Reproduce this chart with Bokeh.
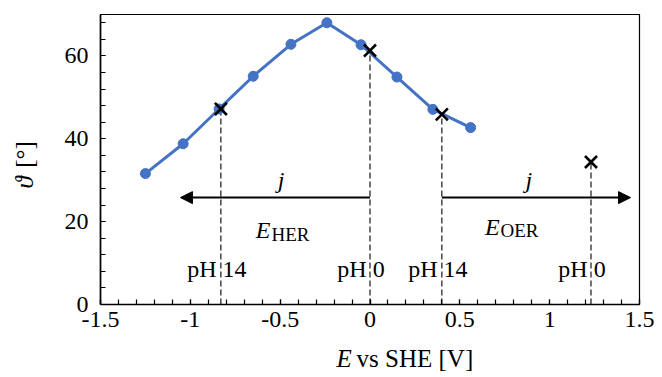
import math
import numpy as np
from bokeh.plotting import figure
from bokeh.models import Range1d, FixedTicker, Label, Arrow, NormalHead
from bokeh.embed import file_html
from bokeh.resources import INLINE

# ---- data ----
E_series = [-1.25, -1.04, -0.84, -0.65, -0.44, -0.24, -0.05, 0.15, 0.35, 0.56]
theta_series = [31.6, 38.8, 47.2, 55.1, 62.8, 68.0, 62.7, 54.9, 47.1, 42.7]

E_marks = [-0.83, 0.00, 0.40, 1.23]          # HER pH14, HER pH0, OER pH14, OER pH0
theta_marks = [47.2, 61.3, 45.9, 34.4]
ph_labels = ["pH 14", "pH 0", "pH 14", "pH 0"]

her_arrow = [0.00, -1.055]   # start, end (E)
oer_arrow = [0.40, 1.45]
arrow_theta = 25.8

x_ticks = [-1.5, -1.0, -0.5, 0.0, 0.5, 1.0, 1.5]
x_tick_labels = ["-1.5", "-1", "-0.5", "0", "0.5", "1", "1.5"]
y_ticks = [0, 20, 40, 60]
y_tick_labels = ["0", "20", "40", "60"]

FONT = "Liberation Serif"
FS = "24px"
BLUE = "#4472C4"

p = figure(width=662, height=377, x_range=Range1d(-1.5, 1.5), y_range=Range1d(0, 70),
           output_backend="svg", toolbar_location=None,
           min_border_left=100, min_border_right=23, min_border_top=14, min_border_bottom=73)
p.background_fill_color = "white"
p.border_fill_color = "white"
p.xgrid.visible = False
p.ygrid.visible = False
p.outline_line_color = "black"
p.outline_line_width = 1.2
p.outline_line_alpha = 1.0

p.xaxis.ticker = FixedTicker(ticks=x_ticks, minor_ticks=list(np.round(np.arange(-1.5, 1.51, 0.1), 2)))
p.yaxis.ticker = FixedTicker(ticks=y_ticks, minor_ticks=list(range(0, 71, 4)))
p.xaxis.major_label_overrides = {t: l for t, l in zip(x_ticks, x_tick_labels)}
p.yaxis.major_label_overrides = {t: l for t, l in zip(y_ticks, y_tick_labels)}
for ax in (p.xaxis[0], p.yaxis[0]):
    ax.axis_line_color = "black"
    ax.axis_line_width = 1.6
    ax.major_tick_in = 5
    ax.major_tick_out = 0
    ax.minor_tick_in = 5
    ax.minor_tick_out = 0
    ax.major_tick_line_color = "black"
    ax.minor_tick_line_color = "black"
    ax.major_tick_line_width = 1.2
    ax.minor_tick_line_width = 1.2
    ax.major_label_text_font = FONT
    ax.major_label_text_font_size = FS
    ax.major_label_text_color = "black"
p.xaxis.major_label_standoff = 7
p.yaxis.major_label_standoff = 12

# dashed guides
p.segment(x0=E_marks, y0=[0] * len(E_marks), x1=E_marks, y1=theta_marks,
          line_color="black", line_width=1.1, line_dash="6 3")

# main series
p.line(E_series, theta_series, line_color=BLUE, line_width=3)
p.scatter(E_series, theta_series, size=10, fill_color=BLUE, line_color=BLUE)

# crosses
p.scatter(E_marks, theta_marks, marker="x", size=17, line_color="black", line_width=2.6)

# arrows
for a in (her_arrow, oer_arrow):
    p.add_layout(Arrow(x_start=a[0], y_start=arrow_theta, x_end=a[1], y_end=arrow_theta,
                       line_color="black", line_width=2,
                       end=NormalHead(size=12, fill_color="black", line_color="black", line_width=1)))

def lab(x, y, text, size=24, style="normal", align="center", xo=0, angle=0,
        baseline="alphabetic", place=None):
    yo = round(0.3 * size) if angle == 0 else 0
    l = Label(x=x, y=y, text=text, text_font=FONT, text_font_size=f"{size}px",
              text_font_style=style, text_align=align, text_baseline=baseline,
              x_offset=xo, y_offset=yo, angle=angle, text_color="black")
    if place:
        p.add_layout(l, place)
    else:
        p.add_layout(l)

# j labels
lab(-0.495, 28.3, "j", style="italic")
lab(0.884, 28.3, "j", style="italic")

# E_HER / E_OER
lab(-0.554, 16.2, "E", style="italic", align="right")
lab(-0.554, 15.5, "HER", size=19, align="left", xo=1)
lab(0.721, 16.9, "E", style="italic", align="right")
lab(0.721, 16.3, "OER", size=19, align="left", xo=1)

# pH labels
for e, t in zip(E_marks, ph_labels):
    lab(e, 7.0, t, xo=(-4 if t.endswith("14") else -9))

# axis titles (placed in side panels so they are not clipped by the frame)
lab(-0.186, -15.0, "E", size=25, style="italic", align="left", place="right")
lab(-0.186, -15.0, "vs SHE [V]", size=25, align="left", xo=20, place="below")
lab(-1.923, 29.5, "ϑ", size=25, style="italic", angle=math.pi / 2, baseline="middle", place="left")
lab(-1.923, 36.2, "[°]", size=25, angle=math.pi / 2, baseline="middle", place="left")

open("out.html", "w").write(file_html(p, INLINE))
